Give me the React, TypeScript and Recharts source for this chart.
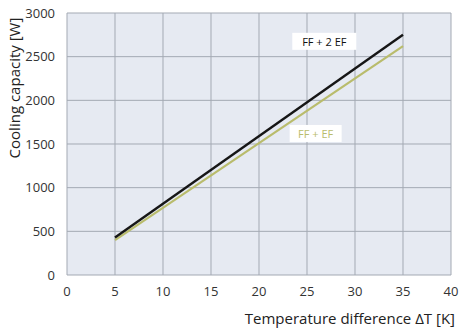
import { CartesianGrid, Label, Line, LineChart, ReferenceDot, XAxis, YAxis } from 'recharts'

const deltaT = [5, 35]
const capacityTwoEF = [430, 2750]
const capacityOneEF = [400, 2620]
const xTicks = [0, 5, 10, 15, 20, 25, 30, 35, 40]
const yTicks = [0, 500, 1000, 1500, 2000, 2500, 3000]

const dados = deltaT.map((t, i) => ({ t, ffTwoEf: capacityTwoEF[i], ffEf: capacityOneEF[i] }))

const FONTE = '"Open Sans", "DejaVu Sans", sans-serif'
const COR_PRETA = '#161616'
const COR_OLIVA = '#b9bc6c'

function RotuloLinha({ viewBox, texto, cor, largura }: any) {
  const cx = viewBox.x
  const cy = viewBox.y
  return (
    <g>
      <rect x={cx - largura / 2} y={cy - 9} width={largura} height={17} fill="#ffffff" />
      <text x={cx} y={cy} textAnchor="middle" dominantBaseline="central" fontSize={11} fontFamily={FONTE} fill={cor}>
        {texto}
      </text>
    </g>
  )
}

export default function App() {
  return (
    <div style={{ position: 'absolute', left: 0, top: 0, background: '#fff' }}>
      <LineChart width={460} height={336} data={dados} margin={{ top: 13, right: 9, left: 0, bottom: 0 }}>
        <CartesianGrid fill="#e6eaf2" stroke="#a3a9b3" strokeWidth={1} />
        <XAxis
          dataKey="t"
          type="number"
          domain={[0, 40]}
          ticks={xTicks}
          axisLine={false}
          tickLine={false}
          tickMargin={6}
          height={61}
          tick={{ fontSize: 13, fontFamily: FONTE, fill: '#333' }}
        >
          <Label
            value="Temperature difference ΔT [K]"
            content={({ viewBox }: any) => (
              <text
                x={viewBox.x + viewBox.width + 4}
                y={318}
                textAnchor="end"
                dominantBaseline="central"
                fontSize={15}
                fontFamily={FONTE}
                fill="#222"
              >
                Temperature difference ΔT [K]
              </text>
            )}
          />
        </XAxis>
        <YAxis
          type="number"
          domain={[0, 3000]}
          ticks={yTicks}
          axisLine={false}
          tickLine={false}
          width={67}
          tickMargin={6}
          tick={{ fontSize: 13, fontFamily: FONTE, fill: '#333' }}
        >
          <Label
            value="Cooling capacity [W]"
            content={() => (
              <text
                x={14}
                y={88}
                transform="rotate(-90, 14, 88)"
                textAnchor="middle"
                dominantBaseline="central"
                fontSize={15}
                fontFamily={FONTE}
                fill="#222"
              >
                Cooling capacity [W]
              </text>
            )}
          />
        </YAxis>
        <Line dataKey="ffEf" stroke={COR_OLIVA} strokeWidth={2.2} dot={false} isAnimationActive={false} />
        <Line dataKey="ffTwoEf" stroke={COR_PRETA} strokeWidth={2.4} dot={false} isAnimationActive={false} />
        <ReferenceDot
          x={26.8}
          y={2670}
          r={0}
          label={(p: any) => <RotuloLinha {...p} texto="FF + 2 EF" cor="#111" largura={64} />}
        />
        <ReferenceDot
          x={25.9}
          y={1615}
          r={0}
          label={(p: any) => <RotuloLinha {...p} texto="FF + EF" cor={COR_OLIVA} largura={52} />}
        />
      </LineChart>
    </div>
  )
}
